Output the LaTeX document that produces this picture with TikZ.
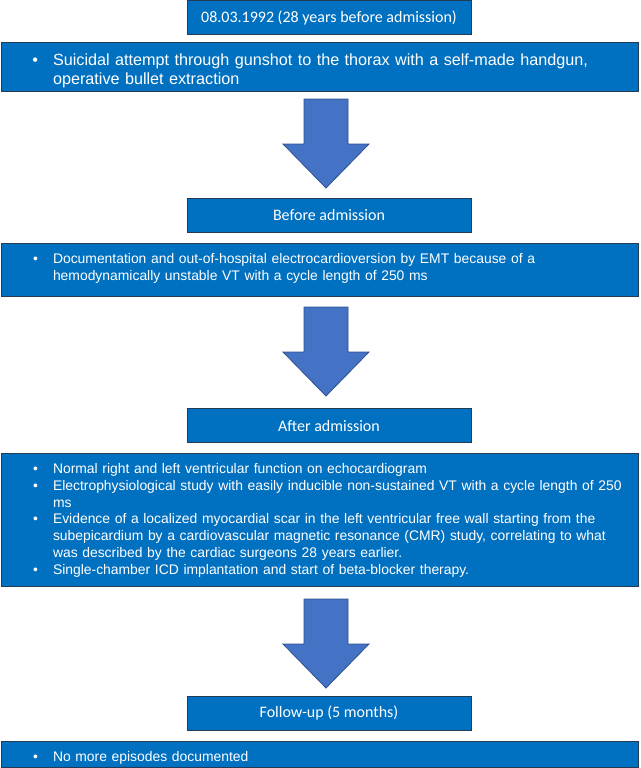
\documentclass[tikz,border=0pt]{standalone}
\usepackage{fontspec}
\setmainfont{Liberation Sans}
\newfontfamily\hdfont{Carlito}
\usepackage{enumitem}
\usetikzlibrary{positioning}
\definecolor{boxc}{HTML}{0070C0}
\definecolor{edgec}{HTML}{263A55}
\definecolor{arrc}{HTML}{4472C4}
\definecolor{arre}{HTML}{2F528F}
\setlist[itemize]{label=\textbullet, leftmargin=52pt, labelsep=15pt, rightmargin=-60pt,
                  topsep=0pt, itemsep=0pt, parsep=0pt, partopsep=0pt}

\begin{document}
\begin{tikzpicture}[x=1pt, y=-1pt,
          hd/.style={draw=edgec, fill=boxc, line width=1pt, text=white, minimum width=284pt, minimum height=34pt, inner sep=0pt, font=\hdfont\fontsize{16}{19}\selectfont},
          tx/.style={draw=edgec, fill=boxc, line width=1pt, text=white, text width=637pt, inner xsep=0pt, inner ysep=0pt, anchor=north west, align=left},
          blk/.style={draw=arre, fill=arrc, line width=0.8pt}]
        \useasboundingbox[fill=white] (0,0) rectangle (640,768);
        \node[hd] (h1) at (329,17.5) {08.03.1992 (28 years before admission)};
        \node[tx, minimum height=48pt, font=\fontsize{16.2}{19}\selectfont] (s1) at (0.5,42.5) {\begin{itemize}\raggedright
          \item Suicidal attempt through gunshot to the thorax with a self-made handgun,\\ operative bullet extraction
        \end{itemize}};
        \node[hd] (h2) at (329,215) {Before admission};
        \node[tx, minimum height=53pt, font=\fontsize{13.9}{17}\selectfont] (s2) at (0.5,243) {\begin{itemize}\raggedright
          \item Documentation and out-of-hospital electrocardioversion by EMT because of a\\ hemodynamically unstable VT with a cycle length of 250 ms
        \end{itemize}\vspace*{10pt}};
        \node[hd] (h3) at (329,425.5) {After admission};
        \node[tx, minimum height=133pt, font=\fontsize{13.9}{16.7}\selectfont] (s3) at (0.5,453) {\begin{itemize}\raggedright
          \item Normal right and left ventricular function on echocardiogram
          \item Electrophysiological study with easily inducible non-sustained VT with a cycle length of 250\\ ms
          \item Evidence of a localized myocardial scar in the left ventricular free wall starting from the\\ subepicardium by a cardiovascular magnetic resonance (CMR) study, correlating to what\\ was described by the cardiac surgeons 28 years earlier.
          \item Single-chamber ICD implantation and start of beta-blocker therapy.
        \end{itemize}\vspace*{6pt}};
        \node[hd] (h4) at (329,713) {Follow-up (5 months)};
        \node[tx, minimum height=26pt, font=\fontsize{13.9}{17}\selectfont] (s4) at (0.5,741) {\begin{itemize}\raggedright
          \item No more episodes documented
        \end{itemize}};
        % block arrows between the stages
        \foreach \t in {99,307,599}{ \filldraw[blk] (304,\t) -- ++(44,0) -- ++(0,45) -- ++(21,0) -- ++(-43,44) -- ++(-43,-44) -- ++(21,0) -- cycle; }
      \end{tikzpicture}
\end{document}
